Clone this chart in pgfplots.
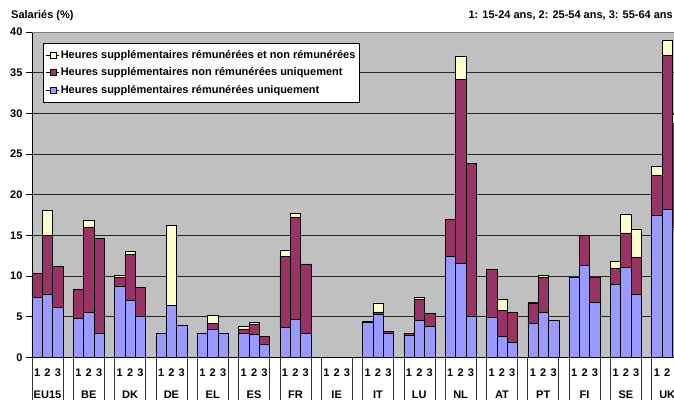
\documentclass[border=0pt]{standalone}
\usepackage{fontspec}
\setmainfont{Liberation Sans}
\usepackage{pgfplots}
\usepackage{pgfplotstable}
\pgfplotsset{compat=1.18}
\usetikzlibrary{calc}
\definecolor{cblue}{RGB}{153,153,255}
\definecolor{cmaroon}{RGB}{153,51,102}
\definecolor{cyellow}{RGB}{255,255,204}
\definecolor{cbg}{RGB}{192,192,192}
\pgfplotstableread{
x b m y
0 7.4 2.9 0
1 7.8 7.2 3.1
2 6.15 5.05 0
4 4.8 3.6 0
5 5.5 10.5 0.8
6 3.0 11.6 0
8 8.7 1.15 0.3
9 7.0 5.7 0.35
10 5.1 3.5 0
12 3.0 0 0
13 6.4 0 9.8
14 3.95 0 0
16 2.9 0 0
17 3.5 0.7 1.0
18 2.95 0 0
20 2.9 0.6 0.3
21 2.8 1.3 0.2
22 1.6 0.95 0.05
24 3.7 8.7 0.8
25 4.7 12.5 0.5
26 2.95 8.55 0
32 4.3 0.1 0
33 5.3 0.3 1.1
34 2.95 0.2 0
36 2.65 0.3 0
37 4.5 2.6 0.25
38 3.85 1.55 0
40 12.4 4.55 0
41 11.55 22.65 2.85
42 5.1 18.7 0
44 4.9 5.9 0
45 2.6 3.2 1.3
46 1.85 3.7 0
48 4.2 2.5 0.1
49 5.5 4.35 0.2
50 4.6 0 0
52 9.85 0 0
53 11.3 3.7 0
54 6.75 3.05 0
56 9.0 2.0 0.85
57 11.05 4.25 2.35
58 7.75 4.55 3.5
60 17.5 4.9 1.1
61 18.2 18.9 1.9
62 16.0 12.8 1.1
}\datatable
\begin{document}
\begin{tikzpicture}
\begin{axis}[
  name=ax, at={(0,0)}, anchor=south west,
  scale only axis, width=648bp, height=325.3bp,
  xmin=-0.5, xmax=62.24, ymin=0, ymax=40,
  ybar stacked, bar width=1,
  every axis plot post/.append style={legend image code/.code={\path (0bp,0bp) -- (13bp,0bp); \draw[##1, draw=black, line width=0.5bp] (4.5bp,-3bp) rectangle (10.5bp,3bp);}},
  clip mode=individual,
  axis background/.style={fill=cbg},
  axis x line*=bottom, axis y line*=left,
  axis line style={-, black, line width=0.6bp},
  tick align=outside, major tick length=6bp,
  ytick={0,5,...,35}, extra y ticks={40},
  ymajorgrids, grid style={black!85, line width=0.7bp},
  extra y tick style={grid style={gray, line width=0.8bp}},
  /pgf/number format/assume math mode=true,
  yticklabel style={font=\fontsize{11bp}{13bp}\selectfont\bfseries},
  ytick style={black, line width=0.6bp},
  xtick={0,1,2,4,5,6,8,9,10,12,13,14,16,17,18,20,21,22,24,25,26,28,29,30,32,33,34,36,37,38,40,41,42,44,45,46,48,49,50,52,53,54,56,57,58,60,61,62},
  xticklabels={1,{2\\EU15},3,1,{2\\BE},3,1,{2\\DK},3,1,{2\\DE},3,1,{2\\EL},3,1,{2\\ES},3,1,{2\\FR},3,1,{2\\IE},3,1,{2\\IT},3,1,{2\\LU},3,1,{2\\NL},3,1,{2\\AT},3,1,{2\\PT},3,1,{2\\FI},3,1,{2\\SE},3,1,{2\\UK},{}},
  xticklabel style={font=\fontsize{11bp}{22bp}\selectfont\bfseries, align=center, yshift=-2.3bp},
  xtick style={draw=none},
  legend style={at={(axis description cs:0.017,0.966)}, anchor=north west, draw=black, line width=0.6bp, fill=white,
    font=\fontsize{11bp}{13bp}\selectfont\bfseries, inner xsep=2bp, inner ysep=5bp, row sep=4bp},
  legend cell align=left,
  reverse legend,
]
\addplot[fill=cblue, draw=black, line width=0.5bp] table[x=x, y=b] {\datatable};
\addlegendentry{Heures supplémentaires rémunérées uniquement}
\addplot[fill=cmaroon, draw=black, line width=0.5bp] table[x=x, y=m] {\datatable};
\addlegendentry{Heures supplémentaires non rémunérées uniquement}
\addplot[fill=cyellow, draw=black, line width=0.5bp] table[x=x, y=y] {\datatable};
\addlegendentry{Heures supplémentaires rémunérées et non rémunérées}
\pgfplotsinvokeforeach{-0.5,2.5,3.5,6.5,7.5,10.5,11.5,14.5,15.5,18.5,19.5,22.5,23.5,26.5,27.5,30.5,31.5,34.5,35.5,38.5,39.5,42.5,43.5,46.5,47.5,50.5,51.5,54.5,55.5,58.5,59.5}{
  \draw[black!80, line width=0.6bp] (axis cs:#1,0) -- ++(0bp,-50bp);
}
\end{axis}
\node[anchor=west, inner sep=0pt, font=\fontsize{11bp}{13bp}\selectfont\bfseries] at ($(ax.north west)+(-21bp,16bp)$) {Salariés (\%)};
\node[anchor=east, inner sep=0pt, font=\fontsize{11bp}{13bp}\selectfont\bfseries] at ($(ax.north west)+(641bp,16bp)$) {1: 15-24 ans, 2: 25-54 ans, 3: 55-64 ans};
\pgfresetboundingbox
\path[use as bounding box] ($(ax.south west)+(-32bp,-42.7bp)$) rectangle ($(ax.south west)+(642bp,357.3bp)$);
\end{tikzpicture}
\end{document}
